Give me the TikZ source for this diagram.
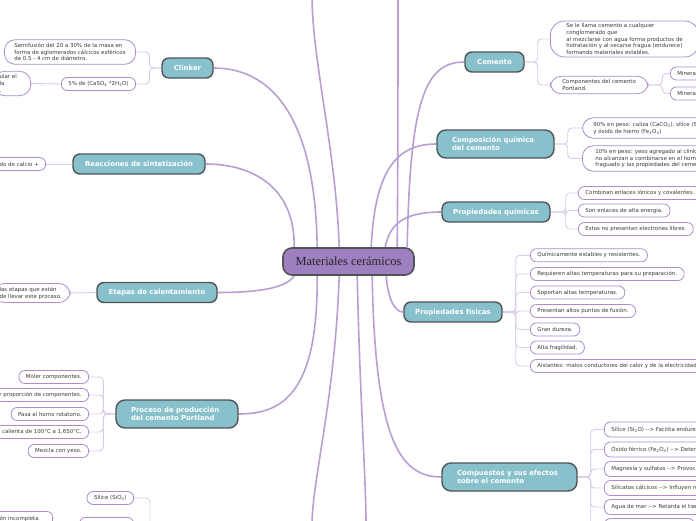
\documentclass[tikz,border=0pt]{standalone}
\usepackage{fontspec}
\setmainfont{DejaVu Sans}
\newfontfamily\rootfont{Liberation Serif}
\usetikzlibrary{calc,backgrounds}
\definecolor{brfill}{HTML}{88C1CB}
\definecolor{brdraw}{HTML}{4E5457}
\definecolor{rootfill}{HTML}{9E7FC0}
\definecolor{mainline}{HTML}{B89FD3}
\definecolor{subline}{HTML}{D9CBE8}
\definecolor{leafdraw}{HTML}{AB8ECB}
\definecolor{leaftext}{HTML}{3A3A3A}
\tikzset{
  branch/.style={draw=brdraw, line width=1.4pt, fill=brfill, rounded corners=7pt, text=white,
    font=\fontsize{6.9}{8}\selectfont\bfseries, minimum height=20pt, inner sep=0pt},
  branchtwo/.style={branch, align=left, inner xsep=15pt, minimum height=28pt, rounded corners=9pt},
  leaf/.style={draw=leafdraw, line width=0.8pt, fill=white, rounded corners=6pt, text=leaftext,
    font=\fontsize{5.45}{6.8}\selectfont, inner xsep=7pt, inner ysep=0pt, minimum height=13pt},
  leafm/.style={leaf, align=left, rounded corners=11pt, inner ysep=3.3pt},
  mainconn/.style={draw=mainline, line width=1.6pt},
  subconn/.style={draw=subline, line width=0.9pt, rounded corners=4pt},
}
\begin{document}
\begin{tikzpicture}[x=1pt,y=-1pt]
\useasboundingbox (0,0) rectangle (696,520);
% root
\node[draw=brdraw, line width=1.6pt, fill=rootfill, rounded corners=9pt, minimum width=131pt,
  minimum height=27pt, inner sep=0pt, font=\rootfont\fontsize{12.4}{14}\selectfont, text=black!85]
  (root) at (348.5,261.5) {Materiales cerámicos};
% branches
\node[branch, minimum width=51pt] (clinker) at (187.5,68) {Clinker};
\node[branch, minimum width=132pt] (reac) at (139,164) {Reacciones de sintetización};
\node[branch, minimum width=120pt] (etapas) at (157,292.5) {Etapas de calentamiento};
\node[branchtwo, text width=92pt] (proceso) at (177,414) {Proceso de producción\\del cemento Portland};
\node[branch, minimum width=59pt] (cemento) at (494.5,62) {Cemento};
\node[branchtwo, text width=87pt] (compos) at (495.5,144) {Composición química\\del cemento};
\node[branch, minimum width=108pt] (propq) at (496,212) {Propiedades químicas};
\node[branch, minimum width=98pt] (propf) at (453,312) {Propiedades físicas};
\node[branchtwo, text width=105pt] (compu) at (509.5,477) {Compuestos y sus efectos\\sobre el cemento};
% off-canvas ends
\coordinate (topA) at (312,-5);
\coordinate (topB) at (398,-5);
\coordinate (botA) at (312,525);
\coordinate (botB) at (366,525);
\coordinate (blp) at (165,545);
% Clinker leaves
\node[leafm, anchor=east, inner xsep=10pt] (semi) at (136,52) {Semifusión del 20 a 30\% de la masa en\\forma de aglomerados cálcicos esféricos\\de 0.5 - 4 cm de diámetro.};
\node[leaf, anchor=east] (yesoc) at (136,84) {5\% de (CaSO\textsubscript{4} *2H\textsubscript{2}O)};
\node[leafm, anchor=east, text width=25pt, inner xsep=6pt] (ular) at (31,83.5) {ular el\\la\\.};
% Reacciones leaf
\node[leaf, anchor=east, text width=40pt, align=left, inner xsep=6pt] (calcio) at (46,164) {do de calcio +};
% Etapas leaf
\node[leafm, anchor=east, text width=64pt, inner xsep=6.5pt] (etch) at (70.5,293) {las etapas que están\\de llevar este proceso.};
% Proceso leaves
\node[leaf, anchor=east] (moler) at (89,377) {Moler componentes.};
\node[leaf, anchor=east] (propor) at (89,395) {r proporción de componentes.};
\node[leaf, anchor=east] (horno) at (89,414) {Pasa al horno rotatorio.};
\node[leaf, anchor=east] (calienta) at (89,432) {calienta de 100°C a 1,650°C.};
\node[leaf, anchor=east] (mezcla) at (89,451) {Mezcla con yeso.};
% bottom-left branch leaves
\node[leaf, anchor=east] (silice) at (134,498) {Sílice (SiO\textsubscript{2})};
\node[leaf, anchor=north east, minimum width=54pt, minimum height=15pt] (silb) at (134,517) {};
\node[leaf, anchor=north east, text width=45pt, align=left, inner xsep=8pt, minimum height=15pt] (oninc) at (53,511) {ón incompleta};
% Cemento leaves
\node[leafm, anchor=west, inner xsep=16pt, inner ysep=2.3pt, rounded corners=14pt] (defc) at (550,39) {Se le llama cemento a cualquier\\conglomerado que\\al mezclarse con agua forma productos de\\hidratación y al secarse fragua (endurece)\\formando materiales estables.};
\node[leafm, anchor=west, inner xsep=12pt] (compc) at (550,85) {Componentes del cemento\\Portland.};
\node[leaf, anchor=west] (minA) at (670,73.5) {Minerales};
\node[leaf, anchor=west] (minB) at (670,93.5) {Minerales};
% Composicion leaves
\node[leafm, anchor=west, inner xsep=11pt, inner ysep=4pt] (c90) at (582,128) {90\% en peso: caliza (CaCO\textsubscript{3}), sílice (SiO\textsubscript{2}), alúmina (Al\textsubscript{2}O\textsubscript{3})\\y óxido de hierro (Fe\textsubscript{2}O\textsubscript{3})};
\node[leafm, anchor=west, inner xsep=13pt] (c10) at (582,158.5) {10\% en peso: yeso agregado al clinker y componentes que\\no alcanzan a combinarse en el horno, que influyen en el\\fraguado y las propiedades del cemento.};
% Propiedades quimicas leaves
\node[leaf, anchor=west] (q1) at (578,193) {Combinan enlaces iónicos y covalentes.};
\node[leaf, anchor=west] (q2) at (578,210.5) {Son enlaces de alta energía.};
\node[leaf, anchor=west] (q3) at (578,229) {Estos no presentan electrones libres.};
% Propiedades fisicas leaves
\node[leaf, anchor=west] (f1) at (530,255.3) {Químicamente estables y resistentes.};
\node[leaf, anchor=west] (f2) at (530,274) {Requieren altas temperaturas para su preparación.};
\node[leaf, anchor=west] (f3) at (530,292.5) {Soportan altas temperaturas.};
\node[leaf, anchor=west] (f4) at (530,311) {Presentan altos puntos de fusión.};
\node[leaf, anchor=west] (f5) at (530,329.5) {Gran dureza.};
\node[leaf, anchor=west] (f6) at (530,347.5) {Alta fragilidad.};
\node[leaf, anchor=west] (f7) at (530,366) {Aislantes: malos conductores del calor y de la electricidad.};
% Compuestos leaves
\node[leaf, anchor=west, minimum height=15pt] (e1) at (604,429.5) {Sílice (Si\textsubscript{2}O) -{}-> Facilita endurecimiento.};
\node[leaf, anchor=west, minimum height=15pt] (e2) at (604,449.5) {Óxido férrico (Fe\textsubscript{2}O\textsubscript{3}) -{}-> Determina el color.};
\node[leaf, anchor=west, minimum height=15pt] (e3) at (604,469) {Magnesia y sulfatos -{}-> Provocan expansión.};
\node[leaf, anchor=west, minimum height=15pt] (e4) at (604,488) {Silicatos cálcicos -{}-> Influyen resistencia.};
\node[leaf, anchor=west, minimum height=15pt] (e5) at (604,507) {Agua de mar -{}-> Retarda el tiempo de fraguado.};
\node[leaf, anchor=west, minimum height=15pt, minimum width=90pt] (e6) at (604,526) {};

\begin{pgfonlayer}{background}
% main connectors
\draw[mainconn] ($(root.north west)+(12,0)$) .. controls (295,185) and (250,164) .. (reac.east);
\draw[mainconn] ($(root.north west)+(35,0)$) .. controls (315,100) and (260,68) .. (clinker.east);
\draw[mainconn] ($(root.north west)+(57,0)$) .. controls (336,150) and (312,60) .. (topA);
\draw[mainconn] ($(root.north west)+(89,0)$) .. controls (375,165) and (400,144) .. (compos.west);
\draw[mainconn] ($(root.north west)+(103,0)$) .. controls (390,220) and (410,212) .. (propq.west);
\draw[mainconn] ($(root.north west)+(115,0)$) .. controls (398,150) and (398,60) .. (topB);
\draw[mainconn] ($(root.north west)+(125,0)$) .. controls (410,100) and (425,62) .. (cemento.west);
\draw[mainconn] ($(root.south west)+(12,0)$) .. controls (285,290) and (250,292.5) .. (etapas.east);
\draw[mainconn] ($(root.south west)+(35,0)$) .. controls (318,390) and (285,414) .. (proceso.east);
\draw[mainconn] ($(root.south west)+(57,0)$) .. controls (335,400) and (312,480) .. (botA);
\draw[mainconn] ($(root.south west)+(75,0)$) .. controls (360,400) and (366,480) .. (botB);
\draw[mainconn] ($(root.south west)+(90,0)$) .. controls (375,440) and (400,477) .. (compu.west);
\draw[mainconn] ($(root.south west)+(104,0)$) .. controls (388,300) and (395,312) .. (propf.west);
% sub connectors
\foreach \c in {semi,yesoc} \draw[subconn] (clinker.west) -- ++(-12,0) |- (\c.east);
\draw[subconn] (yesoc.west) -- (ular.east);
\draw[subconn] (reac.west) -- (calcio.east);
\draw[subconn] (etapas.west) -- (etch.east);
\foreach \c in {moler,propor,horno,calienta,mezcla} \draw[subconn] (proceso.west) -- ++(-12,0) |- (\c.east);
\foreach \c in {silice,silb} \draw[subconn] (blp) -- ++(-15,0) |- (\c.east);
\draw[subconn] ($(oninc.east)+(0,8)$) -- ($(silb.west)+(0,1)$);
\foreach \c in {defc,compc} \draw[subconn] (cemento.east) -- ++(13,0) |- (\c.west);
\foreach \c in {minA,minB} \draw[subconn] (compc.east) -- ++(14,0) |- (\c.west);
\foreach \c in {c90,c10} \draw[subconn] (compos.east) -- ++(13,0) |- (\c.west);
\foreach \c in {q1,q2,q3} \draw[subconn] (propq.east) -- ++(15,0) |- (\c.west);
\foreach \c in {f1,f2,f3,f4,f5,f6,f7} \draw[subconn] (propf.east) -- ++(13,0) |- (\c.west);
\foreach \c in {e1,e2,e3,e4,e5,e6} \draw[subconn] (compu.east) -- ++(13,0) |- (\c.west);
\end{pgfonlayer}
\end{tikzpicture}
\end{document}
